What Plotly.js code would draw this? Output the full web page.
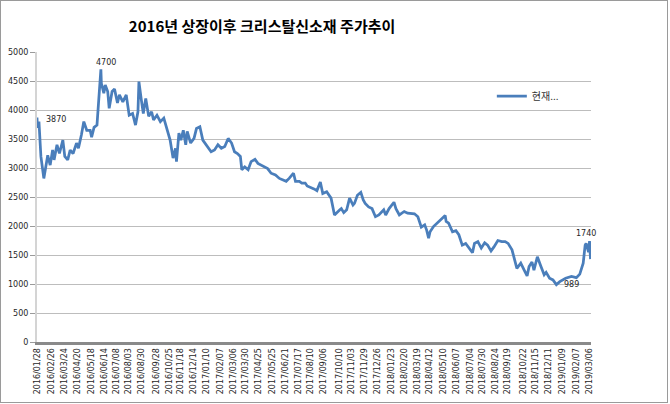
<!DOCTYPE html>
<html>
<head>
<meta charset="utf-8">
<script src="https://cdn.plot.ly/plotly-3.0.1.min.js"></script>
<style>
  html, body { margin: 0; padding: 0; background: #ffffff; }
  #chart { position: absolute; left: 0; top: 0; width: 668px; height: 403px; box-sizing: border-box; border: 1px solid #9a9a9a; }
</style>
</head>
<body>
<div id="chart"></div>
<script>
const chartTitle = "2016년 상장이후 크리스탈신소재 주가추이";
const seriesName = "현재...";

const dates = [
  "2016-01-28","2016-01-29","2016-02-01","2016-02-05","2016-02-11","2016-02-15","2016-02-19","2016-02-24",
  "2016-02-29","2016-03-03","2016-03-09","2016-03-14","2016-03-21","2016-03-25","2016-03-31","2016-04-05",
  "2016-04-11","2016-04-18","2016-04-22","2016-04-28","2016-05-03","2016-05-09","2016-05-16","2016-05-19",
  "2016-05-24","2016-05-30","2016-06-02","2016-06-07","2016-06-08","2016-06-13","2016-06-16","2016-06-21",
  "2016-06-24","2016-06-30","2016-07-05","2016-07-11","2016-07-15","2016-07-22","2016-07-29","2016-08-04",
  "2016-08-11","2016-08-17","2016-08-22","2016-08-24","2016-08-29","2016-09-02","2016-09-07","2016-09-13",
  "2016-09-19","2016-09-23","2016-09-30","2016-10-07","2016-10-14","2016-10-21","2016-10-27","2016-11-02",
  "2016-11-07","2016-11-09","2016-11-14","2016-11-18","2016-11-23","2016-11-28","2016-12-01","2016-12-08",
  "2016-12-15","2016-12-20","2016-12-27","2017-01-02","2017-01-09","2017-01-19","2017-01-26","2017-02-02",
  "2017-02-09","2017-02-16","2017-02-23","2017-03-02","2017-03-08","2017-03-14","2017-03-20","2017-03-23",
  "2017-03-29","2017-04-05","2017-04-11","2017-04-19","2017-04-25","2017-05-08","2017-05-15","2017-05-22",
  "2017-05-31","2017-06-08","2017-06-15","2017-06-22","2017-06-28","2017-07-07","2017-07-11","2017-07-19",
  "2017-07-24","2017-07-31","2017-08-04","2017-08-11","2017-08-18","2017-08-24","2017-08-31","2017-09-05",
  "2017-09-13","2017-09-22","2017-09-29","2017-10-10","2017-10-13","2017-10-18","2017-10-24","2017-10-30",
  "2017-11-06","2017-11-09","2017-11-15","2017-11-22","2017-11-27","2017-12-01","2017-12-08","2017-12-15",
  "2017-12-22","2017-12-29","2018-01-08","2018-01-12","2018-01-19","2018-01-29","2018-02-02","2018-02-09",
  "2018-02-19","2018-02-26","2018-03-02","2018-03-12","2018-03-19","2018-03-23","2018-03-26","2018-04-02",
  "2018-04-06","2018-04-10","2018-04-13","2018-04-20","2018-04-27","2018-05-04","2018-05-14","2018-05-16",
  "2018-05-21","2018-05-29","2018-06-05","2018-06-11","2018-06-18","2018-06-25","2018-07-02","2018-07-09",
  "2018-07-13","2018-07-20","2018-07-27","2018-08-03","2018-08-09","2018-08-16","2018-08-22","2018-08-30",
  "2018-09-07","2018-09-14","2018-09-20","2018-09-28","2018-10-08","2018-10-16","2018-10-23","2018-10-29",
  "2018-11-02","2018-11-08","2018-11-12","2018-11-19","2018-11-26","2018-12-03","2018-12-07","2018-12-14",
  "2018-12-21","2018-12-28","2019-01-04","2019-01-16","2019-01-28","2019-02-07","2019-02-14","2019-02-21",
  "2019-02-25","2019-02-27","2019-03-04","2019-03-06","2019-03-08"
];

const prices = [
  3870,3690,3800,3200,2820,3020,3220,3050,
  3310,3140,3400,3250,3480,3200,3140,3310,
  3250,3430,3340,3570,3800,3650,3650,3530,
  3700,3740,4170,4700,4460,4290,4430,4320,
  4030,4320,4360,4120,4260,4140,4260,3910,
  3940,3740,3970,4490,4170,3940,4200,3890,
  3970,3830,3910,3800,3860,3650,3480,3170,
  3340,3110,3600,3480,3650,3400,3630,3430,
  3510,3680,3710,3480,3400,3280,3310,3400,
  3340,3370,3510,3430,3280,3250,3200,2970,
  3020,2970,3110,3150,3080,3020,2990,2910,
  2880,2820,2790,2770,2820,2910,2770,2770,
  2740,2740,2690,2670,2640,2610,2760,2560,
  2590,2480,2190,2280,2300,2230,2280,2480,
  2360,2390,2530,2580,2450,2390,2330,2300,
  2160,2190,2280,2190,2300,2410,2300,2190,
  2250,2220,2220,2210,2160,2050,1980,2020,
  1930,1790,1900,1990,2050,2100,2180,2080,
  2050,1900,1920,1850,1670,1700,1620,1540,
  1700,1730,1620,1710,1670,1570,1640,1750,
  1730,1730,1700,1590,1270,1360,1240,1140,
  1300,1380,1240,1470,1310,1160,1200,1100,
  1070,989,1040,1100,1130,1110,1170,1360,
  1670,1700,1550,1740,1430
];

const tickDates = [
  "2016/01/28","2016/02/26","2016/03/24","2016/04/20","2016/05/18","2016/06/14","2016/07/08","2016/08/03",
  "2016/08/30","2016/09/28","2016/10/25","2016/11/18","2016/12/14","2017/01/10","2017/02/07","2017/03/06",
  "2017/03/30","2017/04/25","2017/05/25","2017/06/21","2017/07/17","2017/08/10","2017/09/06","2017/10/10",
  "2017/11/03","2017/11/29","2017/12/26","2018/01/23","2018/02/20","2018/03/19","2018/04/12","2018/05/10",
  "2018/06/07","2018/07/04","2018/07/30","2018/08/24","2018/09/19","2018/10/22","2018/11/15","2018/12/11",
  "2019/01/09","2019/02/07","2019/03/06"
];

const yTicks = [0,500,1000,1500,2000,2500,3000,3500,4000,4500,5000];

const labeledValues = [3870, 4700, 1740, 989];
const labelShifts = [[19,-2],[5,7],[-4,8],[15,0]];

const tickIso = tickDates.map(d => d.replace(/\//g, "-"));

const annotations = labeledValues.map((v, k) => {
  const i = prices.lastIndexOf(v);
  return {
    x: dates[i], y: prices[i], xref: "x", yref: "y",
    text: String(v), showarrow: false,
    xshift: labelShifts[k][0], yshift: labelShifts[k][1],
    font: {family: "DejaVu Sans", size: 8, color: "#262626"}
  };
});

const trace = {
  x: dates, y: prices, type: "scatter", mode: "lines", name: seriesName,
  line: {color: "#4a7ebb", width: 2.75}
};

const layout = {
  width: 666, height: 401,
  margin: {l: 36, r: 76, t: 51, b: 60},
  paper_bgcolor: "#ffffff", plot_bgcolor: "#ffffff",
  title: {
    text: chartTitle, xref: "container", x: 0.392, xanchor: "center",
    yref: "container", y: 0.935, yanchor: "middle",
    font: {family: "Noto Sans CJK KR", size: 15, color: "#000000", weight: 700}
  },
  showlegend: true,
  legend: {
    x: 0.821, xanchor: "left", y: 0.848, yanchor: "middle",
    bgcolor: "rgba(0,0,0,0)", borderwidth: 0,
    font: {family: "Noto Sans CJK KR", size: 10, color: "#333333"}
  },
  xaxis: {
    type: "date",
    range: [dates[0], "2019-03-09"],
    tickmode: "array", tickvals: tickIso, ticktext: tickDates,
    tickangle: -90,
    tickfont: {family: "DejaVu Sans", size: 8, color: "#262626"},
    showgrid: false, zeroline: false,
    showline: true, linecolor: "#8a8a8a", linewidth: 3,
    ticks: "", fixedrange: true
  },
  yaxis: {
    range: [0, 5000], tickmode: "array", tickvals: yTicks,
    tickfont: {family: "DejaVu Sans", size: 8, color: "#262626"},
    showgrid: true, gridcolor: "#bdbdbd", gridwidth: 1,
    zeroline: false, showline: true, linecolor: "#d4d4d4", linewidth: 2,
    ticks: "outside", ticklen: 5, tickcolor: "#9a9a9a", tickwidth: 1,
    fixedrange: true
  },
  annotations: annotations
};

Plotly.newPlot("chart", [trace], layout, {displayModeBar: false, staticPlot: true});
</script>
</body>
</html>
